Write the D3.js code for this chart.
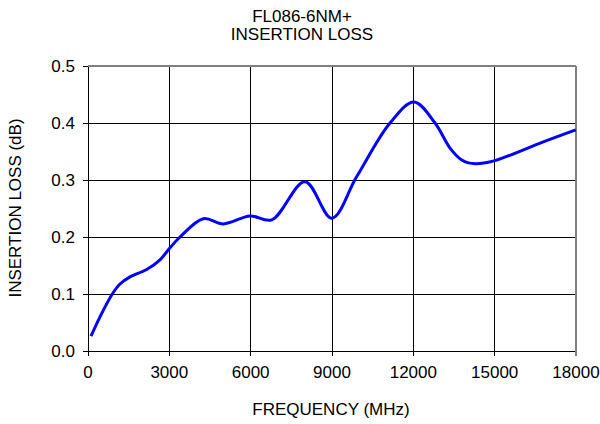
<!DOCTYPE html>
<html>
<head>
<meta charset="utf-8">
<script src="https://cdn.jsdelivr.net/npm/d3@7"></script>
<style>
  html, body { margin: 0; padding: 0; background: #fff; }
  svg { display: block; font-family: "Liberation Sans", Arial, sans-serif; }
</style>
</head>
<body>
<svg id="chart" width="600" height="424"></svg>
<script>
const titleLines = ["FL086-6NM+", "INSERTION LOSS"];
const xLabel = "FREQUENCY (MHz)";
const yLabel = "INSERTION LOSS (dB)";
const xTicks = [0, 3000, 6000, 9000, 12000, 15000, 18000];
const yTicks = [0.0, 0.1, 0.2, 0.3, 0.4, 0.5];
const frequency = [110, 443, 897, 1180, 1549, 2164, 2656, 3025, 3394, 4254, 4991, 5976, 6775, 8004, 8990, 9912, 11140, 12025, 12800, 13353, 13785, 14030, 14460, 15013, 16795, 17990];
const loss      = [0.026, 0.060, 0.100, 0.1175, 0.130, 0.143, 0.160, 0.181, 0.200, 0.232, 0.223, 0.237, 0.230, 0.297, 0.233, 0.306, 0.400, 0.437, 0.400, 0.356, 0.335, 0.330, 0.329, 0.334, 0.367, 0.388];

const svg = d3.select("#chart");
const m = { left: 88, right: 576, top: 66, bottom: 351 };
const x = d3.scaleLinear().domain([0, 18000]).range([m.left, m.right]);
const y = d3.scaleLinear().domain([0, 0.5]).range([m.bottom, m.top]);
const fs = 17;

// grid
svg.append("g").selectAll("line").data(xTicks).join("line")
  .attr("x1", d => x(d)).attr("x2", d => x(d))
  .attr("y1", m.top).attr("y2", m.bottom + 5)
  .attr("stroke", "#000").attr("stroke-width", 1).attr("shape-rendering", "crispEdges");
svg.append("g").selectAll("line").data(yTicks).join("line")
  .attr("x1", m.left - 5).attr("x2", m.right)
  .attr("y1", d => y(d)).attr("y2", d => y(d))
  .attr("stroke", "#000").attr("stroke-width", 1).attr("shape-rendering", "crispEdges");
// frame top/right gray
svg.append("line").attr("x1", m.left).attr("x2", m.right).attr("y1", m.top).attr("y2", m.top)
  .attr("stroke", "#808080").attr("stroke-width", 2);
svg.append("line").attr("x1", m.right).attr("x2", m.right).attr("y1", m.top).attr("y2", m.bottom + 5)
  .attr("stroke", "#808080").attr("stroke-width", 2);

// tick labels
svg.append("g").selectAll("text").data(xTicks).join("text")
  .attr("x", d => x(d)).attr("y", 378)
  .attr("text-anchor", "middle").attr("font-size", fs).attr("fill", "#000")
  .text(d => d);
svg.append("g").selectAll("text").data(yTicks).join("text")
  .attr("x", 75).attr("y", d => y(d) + 6)
  .attr("text-anchor", "end").attr("font-size", fs).attr("fill", "#000")
  .text(d => d3.format(".1f")(d));

// line
const data = frequency.map((f, i) => [f, loss[i]]);
svg.append("path").datum(data)
  .attr("fill", "none").attr("stroke", "#0000ff").attr("stroke-width", 3)
  .attr("stroke-linejoin", "round")
  .attr("d", d3.line().x(d => x(d[0])).y(d => y(d[1])).curve(d3.curveCatmullRom.alpha(0.5)));

// titles
svg.append("g").selectAll("text").data(titleLines).join("text")
  .attr("x", 302).attr("y", (d, i) => 22 + i * 18)
  .attr("text-anchor", "middle").attr("font-size", fs).attr("fill", "#000")
  .text(d => d);
svg.append("text").attr("x", 331).attr("y", 415)
  .attr("text-anchor", "middle").attr("font-size", fs).attr("fill", "#000").text(xLabel);
svg.append("text").attr("transform", "translate(21,208) rotate(-90)")
  .attr("text-anchor", "middle").attr("font-size", fs).attr("fill", "#000").text(yLabel);
</script>
</body>
</html>
